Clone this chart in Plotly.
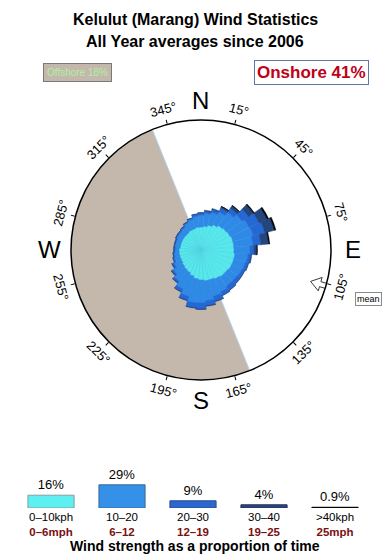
import numpy as np
import plotly.graph_objects as go

# ---------------- data ----------------
directions = list(range(0, 360, 10))
speed_0_10 = [2.3,2.4,2.6,2.8,3.0,3.1,3.2,3.3,3.3,3.3,3.4,3.4,3.4,3.3,3.3,3.2,3.1,3.1,
              3.0,2.9,2.7,2.5,2.4,2.3,2.2,2.2,2.2,2.2,2.1,2.1,2.1,2.1,2.1,2.2,2.2,2.3]
speed_10_20 = [1.2,1.3,1.3,1.4,1.6,1.9,2.1,2.1,1.9,1.6,1.3,1.2,1.1,1.1,1.1,1.4,1.7,2.0,
               2.3,2.4,2.1,1.8,1.4,1.1,0.8,0.6,0.5,0.4,0.5,0.5,0.6,0.6,0.7,0.8,1.0,1.1]
speed_20_30 = [0.2,0.2,0.3,0.4,0.5,0.8,1.1,1.2,0.8,0.4,0.3,0.3,0.3,0.4,0.5,0.4,0.5,0.5,
               0.6,0.5,0.4,0.3,0.2,0.2,0.2,0.1,0.1,0.1,0.1,0.1,0.1,0.1,0.1,0.1,0.1,0.2]
speed_30_40 = [0.05,0.1,0.1,0.2,0.3,0.6,0.9,1.0,0.8,0.3,0.1,0.05,0.05,0.05,0.05,0.05,0.05,0.05,
               0.05,0.05,0.05,0.05,0.05,0.05,0.03,0.03,0.03,0.03,0.03,0.03,0.03,0.03,0.03,0.03,0.03,0.03]
speed_40_plus = [0,0,0,0.02,0.05,0.1,0.15,0.15,0.1,0.03,0,0,0,0,0,0,0,0,
                 0,0,0,0,0,0,0,0,0,0,0,0,0,0,0,0,0,0]

class_kph = ["0–10kph", "10–20", "20–30", "30–40", ">40kph"]
class_mph = ["0–6mph", "6–12", "12–19", "19–25", "25mph"]
class_pct = [16, 29, 9, 4, 0.9]
class_pct_text = ["16%", "29%", "9%", "4%", "0.9%"]

offshore_from, offshore_to = 158, 338
offshore_pct, onshore_pct = 18, 41
mean_dir = 106
tick_angles = [15, 45, 75, 105, 135, 165, 195, 225, 255, 285, 315, 345]
compass = {"N": 0, "E": 90, "S": 180, "W": 270}

R_MAX = 13.0
colors = ["#57e8ec", "#2f8ae6", "#2468d4", "#24467e", "#000000"]
line_colors = ["#4ad2e2", "#2f8ae6", "#2468d4", "#24467e", "#000000"]
W, H = 390, 560
CX, CY, RPX = 201, 250, 130  # polar circle centre/radius in px

fig = go.Figure()

# offshore wedge
fig.add_trace(go.Barpolar(
    theta=[(offshore_from + offshore_to) / 2], r=[R_MAX], base=[0],
    width=[offshore_to - offshore_from],
    marker=dict(color="#c4b8ac", line=dict(color="#b0d4ee", width=1)),
    hoverinfo="skip", showlegend=False))

# rose layers (overlay, explicit bases)
layers = [speed_0_10, speed_10_20, speed_20_30, speed_30_40, speed_40_plus]
base = np.zeros(len(directions))
for vals, col, lc in zip(layers, colors, line_colors):
    v = np.array(vals, dtype=float)
    fig.add_trace(go.Barpolar(
        theta=directions, r=v, base=base.copy(), width=[10] * len(directions),
        marker=dict(color=col, line=dict(color=lc, width=0.5)),
        hoverinfo="skip", showlegend=False))
    base = base + v

# mean arrow (hollow), pointing to centre at mean_dir
scale = R_MAX / RPX
b = np.radians(mean_dir)
tip_r = 114 * scale
loc = np.array([[0, 0], [10, 7], [10, 2.6], [21, 2.6], [21, -2.6], [10, -2.6], [10, -7], [0, 0]]) * scale
ox, oy = np.sin(b), np.cos(b)        # outward unit (x east, y north)
px_, py_ = np.cos(b), -np.sin(b)     # perpendicular
xs = (tip_r + loc[:, 0]) * ox + loc[:, 1] * px_
ys = (tip_r + loc[:, 0]) * oy + loc[:, 1] * py_
fig.add_trace(go.Scatterpolar(
    r=np.hypot(xs, ys), theta=np.degrees(np.arctan2(xs, ys)) % 360,
    mode="lines", fill="toself", fillcolor="white",
    line=dict(color="#3a3a3a", width=1), hoverinfo="skip", showlegend=False))

# legend bar chart
fig.add_trace(go.Bar(
    x=class_kph, y=class_pct, text=class_pct_text, textposition="outside",
    textfont=dict(size=13, color="black"), cliponaxis=False,
    marker=dict(color=["#5cf0f0", "#3590e8", "#2a68d0", "#2a4680", "#000000"],
                line=dict(color=["#8a9aa0", "#3a6a9a", "#2a4a8a", "#203050", "#000000"], width=1)),
    width=0.65, xaxis="x", yaxis="y", hoverinfo="skip", showlegend=False))

FONT = "Liberation Sans, Arial, sans-serif"


def ann(x, y, text, size, color="black", xref="paper", **kw):
    d = dict(x=x, y=y, xref=xref, yref="paper", text=text, showarrow=False,
             xanchor="center", yanchor="middle",
             font=dict(size=size, color=color, family=FONT))
    d.update(kw)
    return d


annotations = []
# tick labels around the circle
for a in tick_angles:
    ang = np.radians(a)
    x = CX + 145 * np.sin(ang)
    y = CY - 145 * np.cos(ang)
    ta = a if a <= 90 else (a - 180 if a < 270 else a - 360)
    annotations.append(ann(x / W, 1 - y / H, f"{a}°", 13, textangle=ta))
for lbl, a in compass.items():
    ang = np.radians(a)
    rr = 150 if a in (0, 180) else 152
    x = CX + rr * np.sin(ang)
    y = CY - rr * np.cos(ang)
    annotations.append(ann(x / W, 1 - y / H, lbl, 24))

# legend row labels under the bars (kph over mph)
for k, m in zip(class_kph, class_mph):
    annotations.append(ann(k, 1 - 524.5 / H,
                           f"{k}<br><b><span style='color:#7a1010'>{m}</span></b>",
                           11.5, xref="x", borderpad=0))

annotations += [
    ann(0.5, 1 - 20 / H, "<b>Kelulut (Marang) Wind Statistics</b>", 16),
    ann(0.5, 1 - 42 / H, "<b>All Year averages since 2006</b>", 16),
    ann(77 / W, 1 - 73 / H, f"Offshore {offshore_pct}%", 10, color="#aef0a4",
        bgcolor="#c4b8ac", bordercolor="#7a7a7a", borderwidth=1, borderpad=3),
    ann(311 / W, 1 - 73 / H, f"<b>Onshore {onshore_pct}%</b>", 17, color="#c00018",
        bgcolor="white", bordercolor="#5a78a8", borderwidth=1, borderpad=2),
    ann(368 / W, 1 - 299 / H, "mean", 9, bgcolor="white", bordercolor="#8a8a8a",
        borderwidth=1, borderpad=1),
    ann(0.5, 1 - 546 / H, "<b>Wind strength as a proportion of time</b>", 14),
]

fig.update_layout(
    width=W, height=H, autosize=False,
    margin=dict(l=0, r=0, t=0, b=0),
    paper_bgcolor="white", plot_bgcolor="white",
    font=dict(family=FONT, color="black"),
    showlegend=False,
    polar=dict(
        domain=dict(x=[(CX - RPX) / W, (CX + RPX) / W], y=[1 - (CY + RPX) / H, 1 - (CY - RPX) / H]),
        bgcolor="white", barmode="overlay",
        radialaxis=dict(visible=False, range=[0, R_MAX]),
        angularaxis=dict(rotation=90, direction="clockwise", showgrid=False,
                         tickvals=tick_angles, ticks="outside", ticklen=4,
                         tickcolor="black", showticklabels=False,
                         showline=True, linecolor="black", linewidth=1.5),
    ),
    xaxis=dict(domain=[15.5 / W, 370.5 / W], anchor="y", showline=False, showgrid=False,
               zeroline=False, ticks="", showticklabels=False),
    yaxis=dict(domain=[1 - 508 / H, 1 - 468 / H], range=[0, 50], visible=False,
               showgrid=False, zeroline=False),
    bargap=0.35,
    annotations=annotations,
)

fig.write_html("out.html")
